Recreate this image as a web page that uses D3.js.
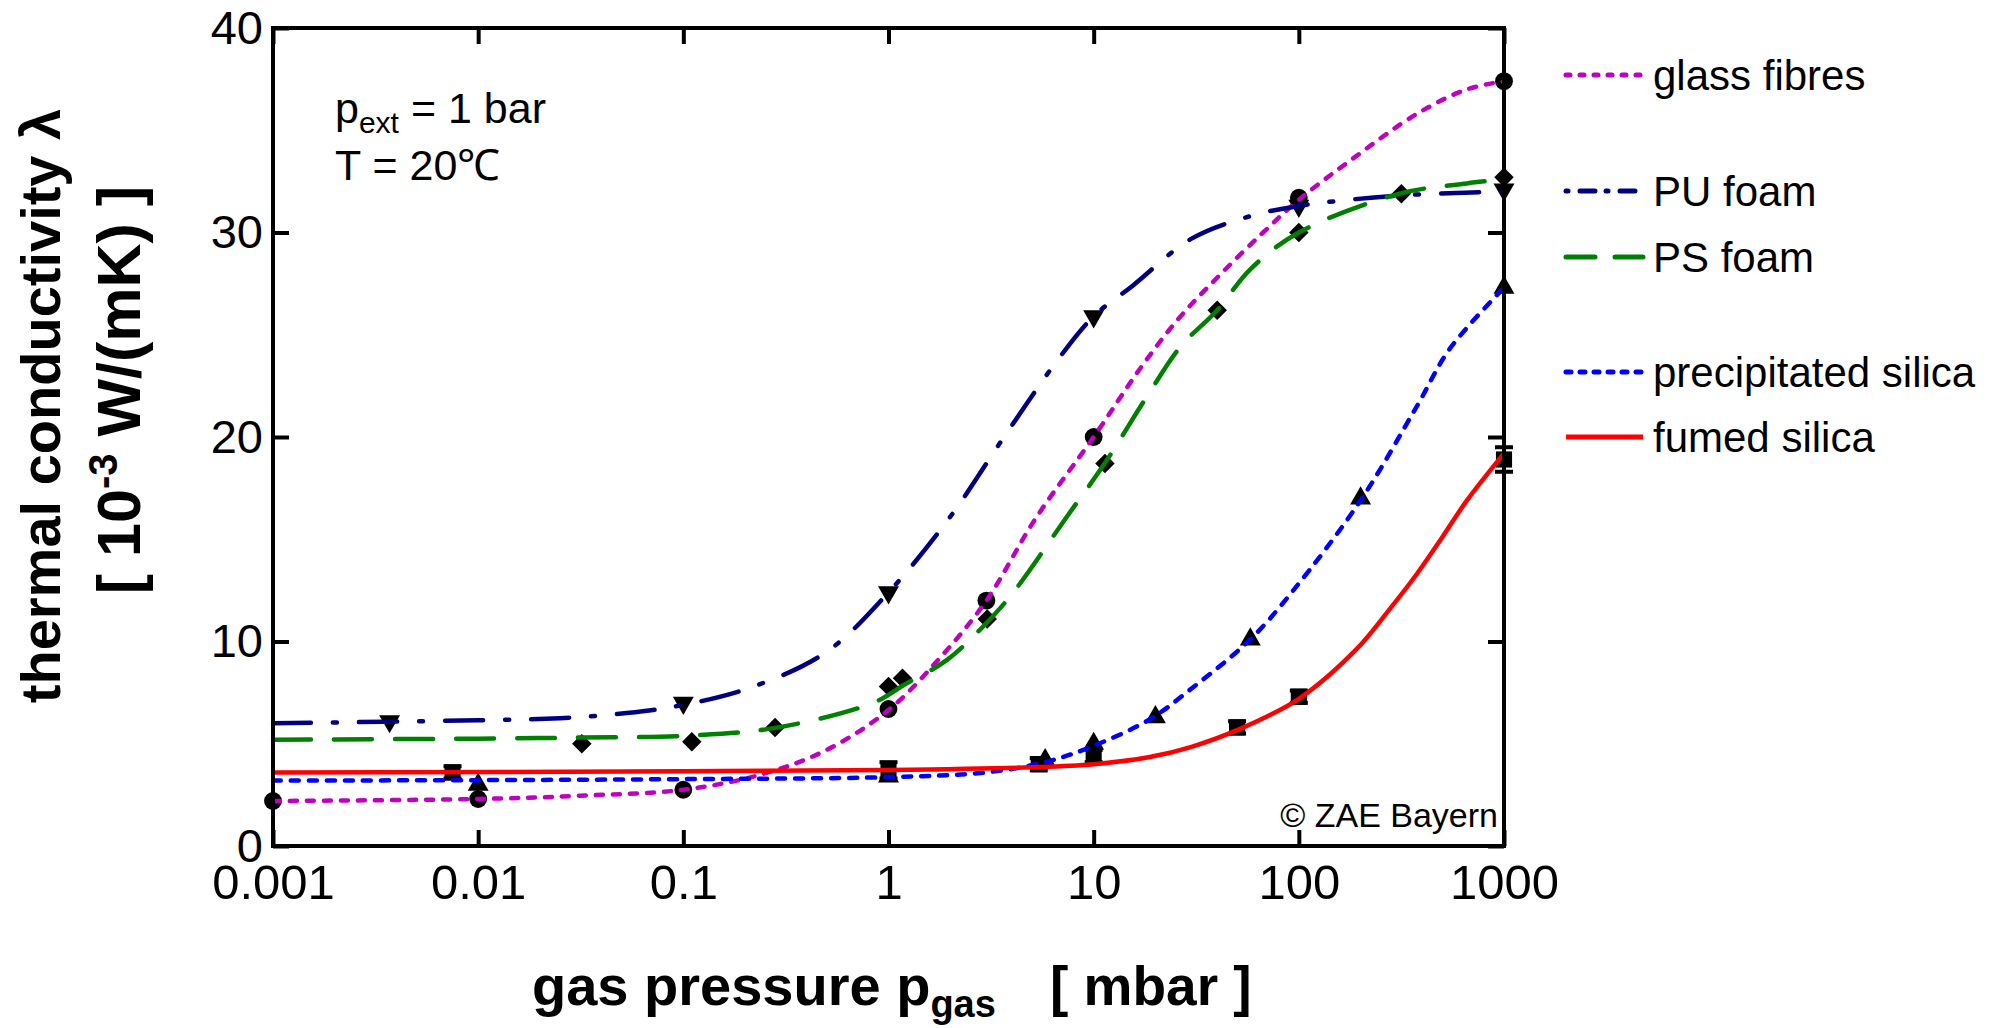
<!DOCTYPE html>
<html>
<head>
<meta charset="utf-8">
<script src="https://cdn.jsdelivr.net/npm/d3@7"></script>
<style>
    body { margin: 0; background: #fff; }
    text { font-family: "Liberation Sans", Arial, sans-serif; }
</style>
</head>
<body>
<script>

// tick values
var xTicks = [0.001, 0.01, 0.1, 1, 10, 100, 1000];
var yTicks = [0, 10, 20, 30, 40];

var seriesNames = ["glass fibres", "PU foam", "PS foam", "precipitated silica", "fumed silica"];

// measured points [p_gas (mbar), lambda (1e-3 W/mK)]
var glassPts = [[0.001, 2.2], [0.01, 2.3], [0.1, 2.75], [1, 6.7], [3, 12.0], [10, 20.0], [100, 31.7], [1000, 37.4]];
var puPts = [[0.0037, 6.1], [0.1, 7.0], [1, 12.4], [10, 25.9], [100, 31.3], [1000, 32.1]];
var psPts = [[0.032, 5.0], [0.11, 5.1], [0.28, 5.8], [1.0, 7.8], [1.17, 8.2], [3.03, 11.1], [11.35, 18.7], [40, 26.2], [100, 30.0], [316, 31.9], [1000, 32.7]];
var precPts = [[0.01, 3.0], [1, 3.4], [5.8, 4.2], [10, 5.0], [20, 6.3], [58, 10.1], [200, 17.0], [1000, 27.3]];
var fumedPts = [[0.0075, 3.6], [1, 3.7], [5.4, 4.0], [10, 4.4], [50, 5.8], [100, 7.3], [1000, 18.9]];
var fumedErr = [0.3, 0.4, 0.3, 0.3, 0.3, 0.3, 0.6];

// fitted curves
var glassFit = [[0.001, 2.2], [0.01, 2.3], [0.03, 2.45], [0.1, 2.75], [0.24, 3.5], [0.5, 4.7], [1, 6.65], [1.8, 9.25], [3, 12.0], [5.2, 16.0], [10, 20.0], [17, 23.4], [26, 25.8], [41, 27.9], [67, 30.0], [100, 31.6], [177, 33.5], [376, 35.8], [660, 37.0], [1000, 37.4]];
var puFit = [[0.001, 6.0], [0.01, 6.15], [0.025, 6.25], [0.053, 6.5], [0.1, 6.9], [0.22, 7.8], [0.5, 9.5], [1, 12.4], [2, 16.1], [3.6, 19.9], [6.6, 23.7], [10, 25.9], [15.5, 27.4], [30, 29.7], [58, 30.8], [100, 31.3], [300, 31.8], [1000, 32.0]];
var psFit = [[0.001, 5.2], [0.01, 5.25], [0.03, 5.3], [0.11, 5.4], [0.29, 5.8], [0.84, 7.0], [1.2, 7.9], [1.93, 9.1], [3.2, 11.2], [4.2, 12.6], [7.4, 16.1], [11.3, 18.7], [18.5, 22.1], [26.4, 24.4], [40, 26.2], [58, 28.2], [100, 30.0], [310, 31.9], [660, 32.4], [1000, 32.6]];
var precFit = [[0.001, 3.2], [0.01, 3.22], [0.1, 3.27], [1, 3.37], [3, 3.6], [5.8, 4.1], [10, 4.9], [18.8, 6.2], [30, 7.7], [58, 10.1], [94, 12.5], [200, 16.9], [376, 21.5], [543, 24.3], [1000, 27.3]];
var fumedFit = [[0.001, 3.6], [0.1, 3.65], [1, 3.72], [5, 3.85], [10, 4.0], [18.8, 4.35], [30, 4.85], [51, 5.7], [100, 7.2], [190, 9.6], [273, 11.5], [376, 13.3], [500, 15.1], [660, 16.9], [1000, 19.2]];


var width = 2011, height = 1028;
var plotLeft = 273, plotRight = 1504, plotTop = 28, plotBottom = 846;

var svg = d3.select("body")
    .append("svg")
    .attr("width", width)
    .attr("height", height);

var x = d3.scaleLog().domain([0.001, 1000]).range([plotLeft, plotRight]);
var y = d3.scaleLinear().domain([0, 40]).range([plotBottom, plotTop]);

var series = [
    { name: seriesNames[0], pts: glassPts, fit: glassFit, color: "#c000c0", dash: "7,10", legDash: "4,10", sym: d3.symbolCircle, size: 250, rot: 0 },
    { name: seriesNames[1], pts: puPts, fit: puFit, color: "#000080", dash: "38,22,4,22", legDash: "2,12,15,11", sym: d3.symbolTriangle, size: 190, rot: 180 },
    { name: seriesNames[2], pts: psPts, fit: psFit, color: "#008000", dash: "38,23", legDash: "29,20", sym: d3.symbolSquare, size: 190, rot: 45 },
    { name: seriesNames[3], pts: precPts, fit: precFit, color: "#0000ff", dash: "8,10", legDash: "5,9", sym: d3.symbolTriangle, size: 190, rot: 0 },
    { name: seriesNames[4], pts: fumedPts, fit: fumedFit, color: "#ff0000", dash: null, legDash: null, sym: d3.symbolSquare, size: 260, rot: 0 }
];
var legendY = [75, 191, 257, 372, 437];

// markers (under the lines)
var marks = svg.append("g").attr("class", "markers");

// error bars of fumed silica
marks.selectAll("g.err")
    .data(fumedPts)
    .enter().append("g")
    .attr("class", "err")
    .each(function(d, i) {
        var g = d3.select(this), cx = x(d[0]);
        var y1 = y(d[1] + fumedErr[i]), y2 = y(d[1] - fumedErr[i]);
        g.append("line").attr("x1", cx).attr("x2", cx).attr("y1", y1).attr("y2", y2)
            .attr("stroke", "#000").attr("stroke-width", 4);
        g.append("line").attr("x1", cx - 9).attr("x2", cx + 9).attr("y1", y1).attr("y2", y1)
            .attr("stroke", "#000").attr("stroke-width", 4);
        g.append("line").attr("x1", cx - 9).attr("x2", cx + 9).attr("y1", y2).attr("y2", y2)
            .attr("stroke", "#000").attr("stroke-width", 4);
    });

series.forEach(function(s) {
    var sym = d3.symbol().type(s.sym).size(s.size);
    marks.selectAll(null)
        .data(s.pts)
        .enter().append("path")
        .attr("d", sym)
        .attr("transform", function(d) {
            return "translate(" + x(d[0]) + "," + y(d[1]) + ") rotate(" + s.rot + ")";
        })
        .attr("fill", "#000");
});

// fitted curves
var line = d3.line()
    .x(function(d) { return x(d[0]); })
    .y(function(d) { return y(d[1]); })
    .curve(d3.curveCatmullRom.alpha(0.5));

svg.append("g")
    .attr("class", "curves")
    .selectAll("path")
    .data(series)
    .enter().append("path")
    .attr("d", function(d) { return line(d.fit); })
    .attr("fill", "none")
    .attr("stroke", function(d) { return d.color; })
    .attr("stroke-width", 4.5)
    .attr("stroke-linecap", function(d) { return d.dash ? "round" : "butt"; })
    .attr("stroke-dasharray", function(d) { return d.dash; });

// axes, ticks pointing inward on all four sides
var fmt = function(d) { return String(d); };

var xAxis = svg.append("g")
    .attr("transform", "translate(0," + plotBottom + ")")
    .call(d3.axisBottom(x).tickValues(xTicks).tickFormat(fmt).tickSizeInner(-16).tickSizeOuter(0).tickPadding(18));
var yAxis = svg.append("g")
    .attr("transform", "translate(" + plotLeft + ",0)")
    .call(d3.axisLeft(y).tickValues(yTicks).tickSizeInner(-16).tickSizeOuter(0).tickPadding(10));
var xTop = svg.append("g")
    .attr("transform", "translate(0," + plotTop + ")")
    .call(d3.axisTop(x).tickValues(xTicks).tickFormat("").tickSizeInner(-16).tickSizeOuter(0));
var yRight = svg.append("g")
    .attr("transform", "translate(" + plotRight + ",0)")
    .call(d3.axisRight(y).tickValues(yTicks).tickFormat("").tickSizeInner(-16).tickSizeOuter(0));

[xAxis, yAxis, xTop, yRight].forEach(function(a) {
    a.select(".domain").remove();
    a.selectAll(".tick line").attr("stroke", "#000").attr("stroke-width", 4);
    a.selectAll(".tick text")
        .attr("fill", "#000")
        .style("font-family", "'Liberation Sans', Arial, sans-serif")
        .style("font-size", "49px");
});
yAxis.selectAll(".tick text").attr("dy", "0.32em").style("font-size", "47px");

svg.append("rect")
    .attr("x", plotLeft).attr("y", plotTop)
    .attr("width", plotRight - plotLeft).attr("height", plotBottom - plotTop)
    .attr("fill", "none")
    .attr("stroke", "#000")
    .attr("stroke-width", 4);

// axis titles
var xt = svg.append("text")
    .attr("x", 532).attr("y", 1005)
    .style("font-size", "56px")
    .style("font-weight", "bold");
xt.append("tspan").text("gas pressure p");
xt.append("tspan").attr("dy", 12).style("font-size", "38px").text("gas");
xt.append("tspan").attr("x", 1050).attr("dy", -12).style("font-size", "55px").text("[ mbar ]");

svg.append("text")
    .attr("transform", "translate(60,406) rotate(-90)")
    .attr("text-anchor", "middle")
    .style("font-size", "56px")
    .style("font-weight", "bold")
    .text("thermal conductivity λ");

var yt2 = svg.append("text")
    .attr("transform", "translate(140,390) rotate(-90)")
    .attr("text-anchor", "middle")
    .style("font-size", "61px")
    .style("font-weight", "bold");
yt2.append("tspan").text("[ 10");
yt2.append("tspan").attr("dy", -23).style("font-size", "40px").text("-3");
yt2.append("tspan").attr("dy", 23).text(" W/(mK) ]");

// conditions
var t1 = svg.append("text")
    .attr("x", 335).attr("y", 123)
    .style("font-size", "43px");
t1.append("tspan").text("p");
t1.append("tspan").attr("dy", 10).style("font-size", "30px").text("ext");
t1.append("tspan").attr("dy", -10).text(" = 1 bar");

svg.append("text")
    .attr("x", 335).attr("y", 180)
    .style("font-size", "43px")
    .text("T = 20℃");

svg.append("text")
    .attr("x", 1498).attr("y", 827)
    .attr("text-anchor", "end")
    .style("font-size", "34px")
    .text("© ZAE Bayern");

// legend
var legend = svg.append("g").attr("class", "legend")
    .selectAll("g")
    .data(series)
    .enter().append("g")
    .attr("transform", function(d, i) { return "translate(0," + legendY[i] + ")"; });

legend.append("line")
    .attr("x1", 1566).attr("x2", 1643)
    .attr("stroke", function(d) { return d.color; })
    .attr("stroke-width", 5)
    .attr("stroke-linecap", function(d) { return d.legDash ? "round" : "butt"; })
    .attr("stroke-dasharray", function(d) { return d.legDash; });

legend.append("text")
    .attr("x", 1653).attr("y", 15)
    .style("font-size", "42px")
    .text(function(d) { return d.name; });

</script>
</body>
</html>
